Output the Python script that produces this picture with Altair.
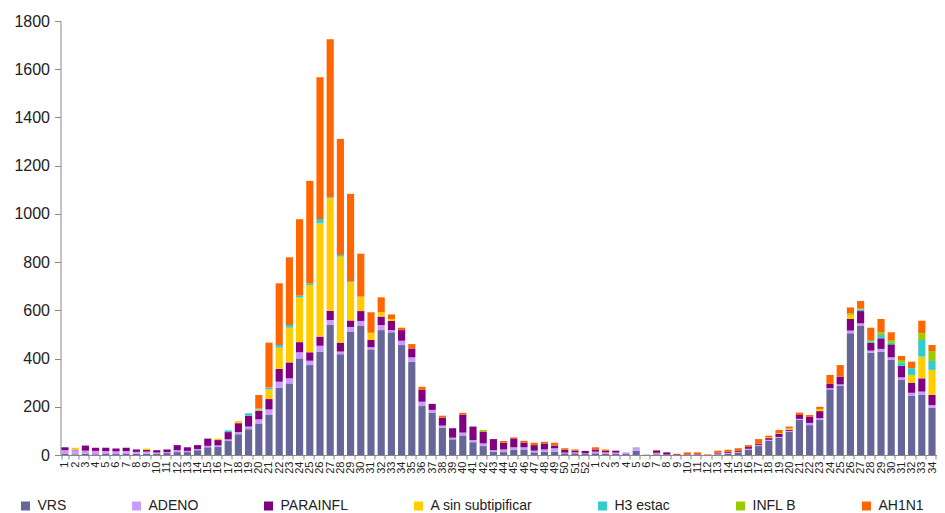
import altair as alt
import pandas as pd

# Week labels (two consecutive seasons)
weeks_y1 = [str(w) for w in range(1, 53)]
weeks_y2 = [str(w) for w in range(1, 35)]

series = ["VRS", "ADENO", "PARAINFL", "A sin subtipificar", "H3 estac", "INFL B", "AH1N1"]
colors = ["#666699", "#CC99FF", "#800080", "#FFCC00", "#33CCCC", "#99CC00", "#FF6600"]

vrs = [4, 3, 5, 3, 4, 4, 4, 5, 5, 5, 8, 12, 12, 20, 32, 33, 60, 86, 107, 131,
       166, 279, 297, 401, 373, 429, 539, 418, 512, 535, 438, 518, 509, 456, 387, 203, 176, 113, 65, 81,
       53, 37, 14, 12, 21, 23, 11, 14, 14, 7, 7, 4,
       7, 5, 4, 4, 18, 1, 3, 2, 0, 1, 1, 1, 3, 6, 10, 22, 37, 59, 72, 97,
       145, 124, 145, 272, 286, 505, 535, 424, 429, 394, 311, 245, 249, 196]
adeno = [16, 17, 13, 14, 13, 11, 13, 8, 9, 5, 4, 8, 5, 5, 6, 7, 5, 9, 11, 17,
         23, 25, 21, 25, 18, 24, 21, 11, 19, 21, 9, 21, 9, 18, 18, 18, 11, 9, 7, 12,
         9, 11, 6, 11, 11, 9, 7, 9, 14, 3, 4, 3,
         7, 6, 6, 7, 14, 1, 6, 0, 0, 0, 0, 0, 3, 3, 3, 4, 5, 4, 3, 3,
         5, 9, 8, 5, 7, 11, 11, 9, 11, 11, 11, 13, 14, 11]
parainfl = [12, 2, 21, 13, 13, 12, 13, 10, 7, 10, 11, 21, 15, 16, 30, 22, 30, 37, 45, 36,
            43, 53, 66, 42, 35, 38, 38, 37, 27, 41, 30, 35, 38, 44, 37, 49, 25, 33, 39, 74,
            56, 49, 46, 28, 37, 20, 23, 25, 11, 11, 7, 10,
            9, 6, 8, 0, 0, 0, 10, 9, 3, 2, 2, 0, 3, 4, 4, 7, 5, 7, 13, 5,
            16, 25, 29, 18, 32, 48, 51, 33, 44, 54, 48, 42, 55, 42]
a_sin = [0, 8, 0, 0, 0, 0, 0, 0, 6, 0, 0, 0, 0, 0, 0, 6, 0, 9, 0, 5,
         40, 88, 144, 185, 279, 470, 466, 357, 158, 60, 30, 18, 8, 0, 0, 0, 0, 0, 0, 0,
         0, 0, 0, 0, 0, 0, 0, 0, 0, 0, 0, 0,
         0, 0, 0, 0, 0, 0, 0, 0, 0, 0, 0, 0, 0, 0, 0, 0, 0, 3, 2, 5,
         0, 0, 9, 0, 0, 17, 0, 0, 0, 0, 0, 32, 90, 104]
h3 = [0, 0, 0, 0, 0, 0, 0, 0, 0, 0, 0, 0, 0, 0, 0, 0, 7, 0, 10, 4,
      8, 11, 11, 8, 7, 18, 4, 7, 3, 0, 0, 0, 0, 0, 0, 0, 0, 0, 0, 0,
      0, 0, 0, 0, 0, 0, 0, 0, 0, 0, 0, 0,
      0, 0, 0, 0, 0, 0, 0, 0, 0, 0, 0, 0, 0, 0, 0, 0, 0, 0, 0, 0,
      0, 0, 0, 0, 0, 0, 6, 6, 14, 6, 14, 28, 69, 37]
inflb = [0, 0, 0, 0, 0, 0, 0, 0, 0, 0, 0, 0, 0, 0, 0, 0, 0, 0, 0, 0,
         0, 0, 0, 0, 0, 0, 0, 0, 0, 0, 0, 0, 0, 0, 0, 0, 0, 0, 0, 0,
         0, 7, 0, 0, 0, 0, 0, 0, 0, 0, 0, 0,
         0, 0, 0, 0, 0, 0, 0, 0, 0, 0, 0, 0, 0, 0, 0, 0, 0, 0, 0, 0,
         0, 0, 0, 0, 0, 7, 4, 5, 11, 12, 10, 0, 28, 41]
ah1n1 = [0, 0, 0, 0, 0, 0, 0, 0, 0, 0, 0, 0, 0, 0, 0, 0, 0, 0, 0, 56,
         186, 256, 281, 317, 425, 588, 656, 481, 364, 178, 85, 62, 19, 10, 18, 13, 0, 8, 0, 8,
         0, 0, 0, 7, 4, 7, 10, 7, 12, 7, 5, 0,
         9, 6, 0, 0, 0, 0, 2, 0, 2, 8, 8, 2, 9, 9, 11, 8, 19, 7, 14, 8,
         10, 8, 9, 37, 48, 24, 32, 51, 55, 32, 17, 27, 52, 25]

values = [vrs, adeno, parainfl, a_sin, h3, inflb, ah1n1]

keys = ["a|" + w for w in weeks_y1] + ["b|" + w for w in weeks_y2]

rows = []
for si, (name, vals) in enumerate(zip(series, values)):
    for k, v in zip(keys, vals):
        rows.append({"key": k, "serie": name, "orden": si, "valor": v})
df = pd.DataFrame(rows)

FONT = "Liberation Sans"

chart = alt.Chart(df).mark_bar().encode(
    x=alt.X("key:N", sort=keys, title=None,
            scale=alt.Scale(paddingInner=0.3, paddingOuter=0.09),
            axis=alt.Axis(labelExpr="split(datum.label, '|')[1]", labelAngle=270,
                          labelFontSize=11, labelColor="#222222", labelPadding=2,
                          tickBand="extent", tickSize=4, tickColor="#888888",
                          domainColor="#888888", labelFont=FONT, labelOverlap=False)),
    y=alt.Y("valor:Q", stack="zero", title=None,
            scale=alt.Scale(domain=[0, 1800], nice=False),
            axis=alt.Axis(values=list(range(0, 1801, 200)), format="d", labelFontSize=16,
                          labelColor="#222222", labelFont=FONT, labelPadding=5,
                          tickSize=6, tickColor="#888888", domainColor="#888888",
                          grid=False)),
    color=alt.Color("serie:N", scale=alt.Scale(domain=series, range=colors), title=None,
                    legend=alt.Legend(orient="none", direction="horizontal",
                                      legendX=-42, legendY=478, columnPadding=63,
                                      symbolType="square", symbolSize=81,
                                      symbolStrokeWidth=0, labelFontSize=14,
                                      labelFont=FONT, labelColor="#222222",
                                      labelLimit=300, labelOffset=5)),
    order=alt.Order("orden:Q", sort="ascending"),
).properties(
    width=876, height=434,
    autosize=alt.AutoSizeParams(type="none"),
    padding={"left": 52.5, "top": 13, "right": 0, "bottom": 57},
).configure_view(stroke=None)

chart.save("out.html", embed_options={"renderer": "svg", "actions": False})
